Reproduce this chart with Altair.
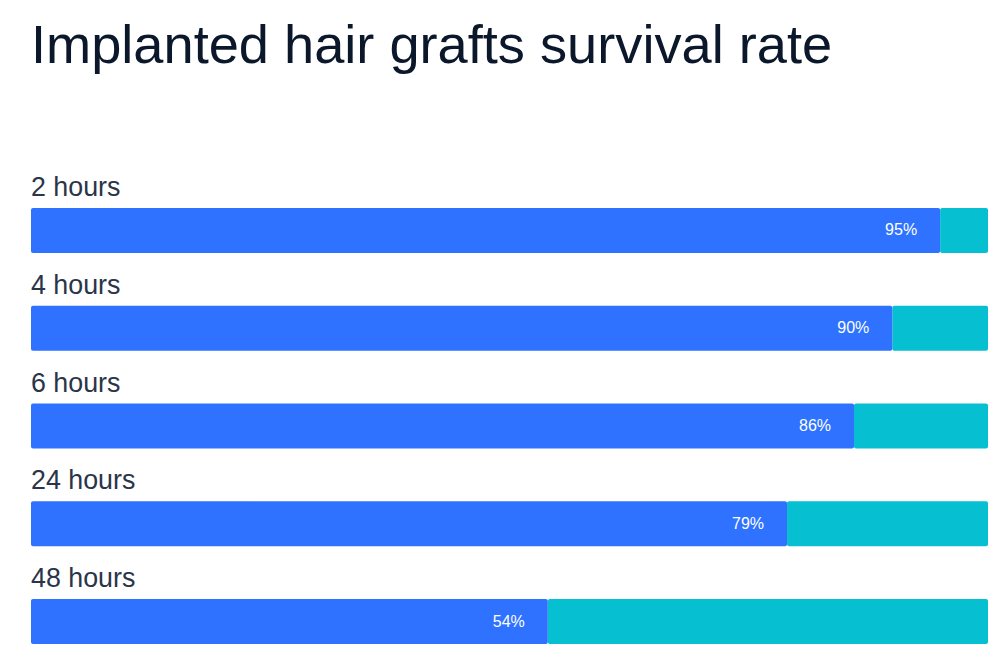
import altair as alt
import pandas as pd

categories = ["2 hours", "4 hours", "6 hours", "24 hours", "48 hours"]
survival = [95, 90, 86, 79, 54]
labels = ["95%", "90%", "86%", "79%", "54%"]
total = [100, 100, 100, 100, 100]

df = pd.DataFrame({"cat": categories, "value": survival, "label": labels, "total": total})

BLUE = "#2E72FF"
TEAL = "#06BFD1"

y_enc = alt.Y("cat:N", sort=categories, axis=None,
              scale=alt.Scale(paddingInner=0.541, paddingOuter=0))
x_scale = alt.Scale(domain=[0, 100], nice=False, zero=True)

base = alt.Chart(df)

rest = base.mark_bar(color=TEAL, cornerRadius=2).encode(
    x=alt.X("value:Q", scale=x_scale, axis=None),
    x2="total:Q",
    y=y_enc,
)
done = base.mark_bar(color=BLUE, cornerRadius=2).encode(
    x=alt.X("value:Q", scale=x_scale, axis=None),
    x2=alt.datum(0),
    y=y_enc,
)
pct = base.mark_text(align="right", baseline="middle", dx=-23, color="white",
                     fontSize=16, font="Liberation Sans").encode(
    x=alt.X("value:Q", scale=x_scale, axis=None),
    y=y_enc,
    text="label:N",
)
cat_lbl = base.mark_text(align="left", baseline="alphabetic", dy=-34.5, color="#2A3549",
                         fontSize=26.8, font="Liberation Sans").encode(
    x=alt.datum(0),
    y=y_enc,
    text="cat:N",
)

chart = alt.layer(rest, done, pct, cat_lbl).properties(
    width=957,
    height=436,
    padding={"left": 23, "top": 200, "right": 12, "bottom": 10},
    autosize=alt.AutoSizeParams(type="none"),
    title=alt.TitleParams(
        "Implanted hair grafts survival rate",
        anchor="start", fontSize=54.2, font="Liberation Sans", fontWeight="normal",
        color="#0B172A", offset=101,
    ),
).configure_view(stroke=None)

chart.save("out.html", embed_options={"renderer": "svg", "actions": False})
